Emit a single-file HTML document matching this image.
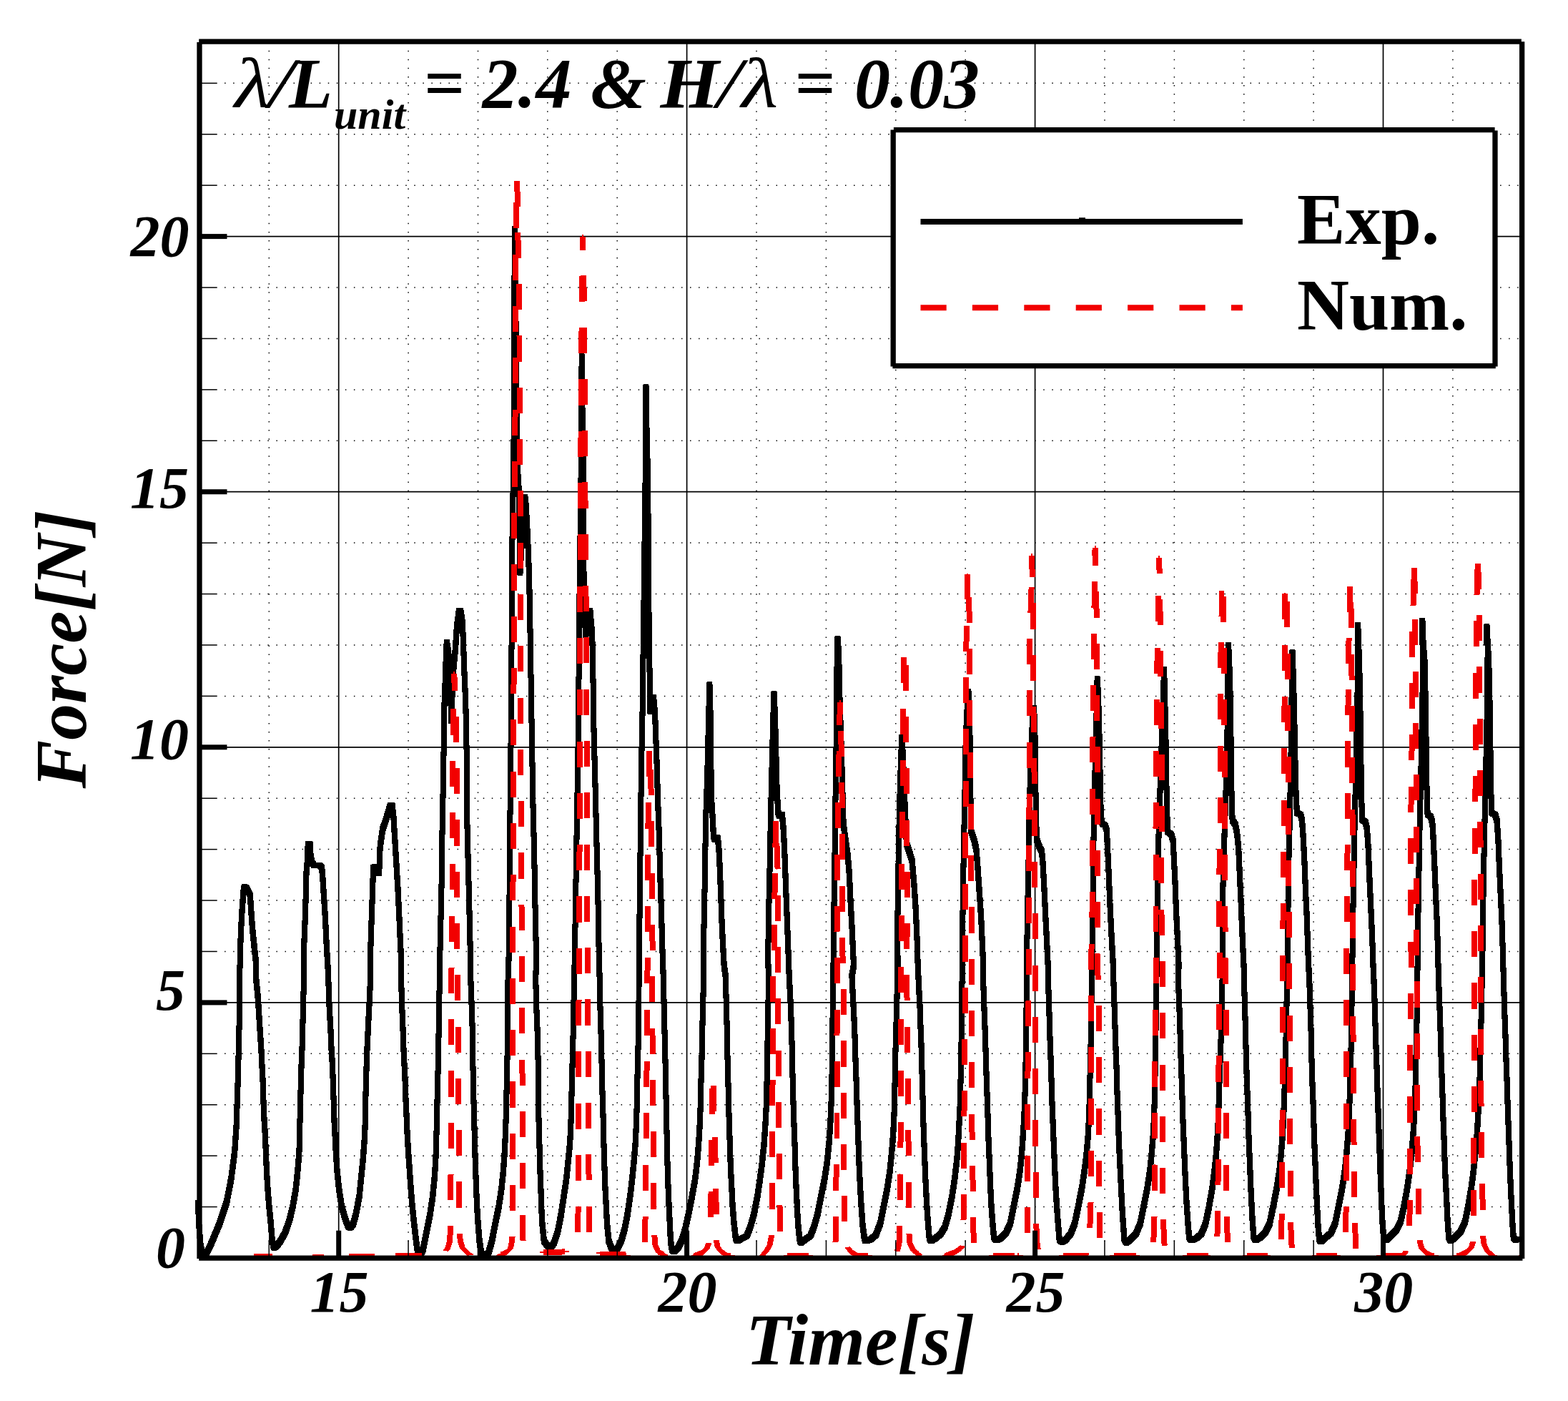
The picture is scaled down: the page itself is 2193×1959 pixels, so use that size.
<!DOCTYPE html>
<html lang="en"><head><meta charset="utf-8"><title>Force vs Time</title>
<style>html,body{margin:0;padding:0;background:#fff}body{width:2193px;height:1959px;overflow:hidden}svg{display:block}text{font-family:"Liberation Serif","DejaVu Serif",serif;fill:#000}.bi{font-weight:bold;font-style:italic}.b{font-weight:bold}.i{font-style:italic}</style></head><body>
<svg width="2193" height="1959" viewBox="0 0 2193 1959">
<rect x="0" y="0" width="2193" height="1959" fill="#fff"/>
<g id="grid"><line x1="376.3" y1="1735.7" x2="376.3" y2="58.2" stroke="#000" stroke-width="1.5" stroke-dasharray="1.5 10.554"/><line x1="473.7" y1="58.2" x2="473.7" y2="1759.1" stroke="#000" stroke-width="1.7"/><line x1="571.1" y1="1735.7" x2="571.1" y2="58.2" stroke="#000" stroke-width="1.5" stroke-dasharray="1.5 10.554"/><line x1="668.5" y1="1735.7" x2="668.5" y2="58.2" stroke="#000" stroke-width="1.5" stroke-dasharray="1.5 10.554"/><line x1="765.8" y1="1735.7" x2="765.8" y2="58.2" stroke="#000" stroke-width="1.5" stroke-dasharray="1.5 10.554"/><line x1="863.2" y1="1735.7" x2="863.2" y2="58.2" stroke="#000" stroke-width="1.5" stroke-dasharray="1.5 10.554"/><line x1="960.6" y1="58.2" x2="960.6" y2="1759.1" stroke="#000" stroke-width="1.7"/><line x1="1058.0" y1="1735.7" x2="1058.0" y2="58.2" stroke="#000" stroke-width="1.5" stroke-dasharray="1.5 10.554"/><line x1="1155.4" y1="1735.7" x2="1155.4" y2="58.2" stroke="#000" stroke-width="1.5" stroke-dasharray="1.5 10.554"/><line x1="1252.8" y1="1735.7" x2="1252.8" y2="58.2" stroke="#000" stroke-width="1.5" stroke-dasharray="1.5 10.554"/><line x1="1350.2" y1="1735.7" x2="1350.2" y2="58.2" stroke="#000" stroke-width="1.5" stroke-dasharray="1.5 10.554"/><line x1="1447.6" y1="58.2" x2="1447.6" y2="1759.1" stroke="#000" stroke-width="1.7"/><line x1="1545.0" y1="1735.7" x2="1545.0" y2="58.2" stroke="#000" stroke-width="1.5" stroke-dasharray="1.5 10.554"/><line x1="1642.4" y1="1735.7" x2="1642.4" y2="58.2" stroke="#000" stroke-width="1.5" stroke-dasharray="1.5 10.554"/><line x1="1739.8" y1="1735.7" x2="1739.8" y2="58.2" stroke="#000" stroke-width="1.5" stroke-dasharray="1.5 10.554"/><line x1="1837.1" y1="1735.7" x2="1837.1" y2="58.2" stroke="#000" stroke-width="1.5" stroke-dasharray="1.5 10.554"/><line x1="1934.5" y1="58.2" x2="1934.5" y2="1759.1" stroke="#000" stroke-width="1.7"/><line x1="2031.9" y1="1735.7" x2="2031.9" y2="58.2" stroke="#000" stroke-width="1.5" stroke-dasharray="1.5 10.554"/><line x1="314.1" y1="1687.6" x2="2128.7" y2="1687.6" stroke="#000" stroke-width="1.5" stroke-dasharray="1.5 10.554"/><line x1="314.1" y1="1616.2" x2="2128.7" y2="1616.2" stroke="#000" stroke-width="1.5" stroke-dasharray="1.5 10.554"/><line x1="314.1" y1="1544.7" x2="2128.7" y2="1544.7" stroke="#000" stroke-width="1.5" stroke-dasharray="1.5 10.554"/><line x1="314.1" y1="1473.3" x2="2128.7" y2="1473.3" stroke="#000" stroke-width="1.5" stroke-dasharray="1.5 10.554"/><line x1="279.0" y1="1401.9" x2="2128.7" y2="1401.9" stroke="#000" stroke-width="1.7"/><line x1="314.1" y1="1330.5" x2="2128.7" y2="1330.5" stroke="#000" stroke-width="1.5" stroke-dasharray="1.5 10.554"/><line x1="314.1" y1="1259.1" x2="2128.7" y2="1259.1" stroke="#000" stroke-width="1.5" stroke-dasharray="1.5 10.554"/><line x1="314.1" y1="1187.6" x2="2128.7" y2="1187.6" stroke="#000" stroke-width="1.5" stroke-dasharray="1.5 10.554"/><line x1="314.1" y1="1116.2" x2="2128.7" y2="1116.2" stroke="#000" stroke-width="1.5" stroke-dasharray="1.5 10.554"/><line x1="279.0" y1="1044.8" x2="2128.7" y2="1044.8" stroke="#000" stroke-width="1.7"/><line x1="314.1" y1="973.4" x2="2128.7" y2="973.4" stroke="#000" stroke-width="1.5" stroke-dasharray="1.5 10.554"/><line x1="314.1" y1="902.0" x2="2128.7" y2="902.0" stroke="#000" stroke-width="1.5" stroke-dasharray="1.5 10.554"/><line x1="314.1" y1="830.5" x2="2128.7" y2="830.5" stroke="#000" stroke-width="1.5" stroke-dasharray="1.5 10.554"/><line x1="314.1" y1="759.1" x2="2128.7" y2="759.1" stroke="#000" stroke-width="1.5" stroke-dasharray="1.5 10.554"/><line x1="279.0" y1="687.7" x2="2128.7" y2="687.7" stroke="#000" stroke-width="1.7"/><line x1="314.1" y1="616.3" x2="2128.7" y2="616.3" stroke="#000" stroke-width="1.5" stroke-dasharray="1.5 10.554"/><line x1="314.1" y1="544.9" x2="2128.7" y2="544.9" stroke="#000" stroke-width="1.5" stroke-dasharray="1.5 10.554"/><line x1="314.1" y1="473.4" x2="2128.7" y2="473.4" stroke="#000" stroke-width="1.5" stroke-dasharray="1.5 10.554"/><line x1="314.1" y1="402.0" x2="2128.7" y2="402.0" stroke="#000" stroke-width="1.5" stroke-dasharray="1.5 10.554"/><line x1="279.0" y1="330.6" x2="2128.7" y2="330.6" stroke="#000" stroke-width="1.7"/><line x1="314.1" y1="259.2" x2="2128.7" y2="259.2" stroke="#000" stroke-width="1.5" stroke-dasharray="1.5 10.554"/><line x1="314.1" y1="187.8" x2="2128.7" y2="187.8" stroke="#000" stroke-width="1.5" stroke-dasharray="1.5 10.554"/><line x1="314.1" y1="116.3" x2="2128.7" y2="116.3" stroke="#000" stroke-width="1.5" stroke-dasharray="1.5 10.554"/></g>
<defs><filter id="sq" filterUnits="userSpaceOnUse" x="0" y="0" width="2193" height="1959" color-interpolation-filters="sRGB"><feMorphology operator="dilate" radius="3"/></filter><filter id="sqh" filterUnits="userSpaceOnUse" x="0" y="0" width="2193" height="1959" color-interpolation-filters="sRGB"><feMorphology operator="dilate" radius="3 0"/></filter><filter id="sqv" filterUnits="userSpaceOnUse" x="0" y="0" width="2193" height="1959" color-interpolation-filters="sRGB"><feMorphology operator="dilate" radius="0 3"/></filter></defs>
<g id="curves" fill="none" stroke-linejoin="round" shape-rendering="crispEdges">
<g filter="url(#sq)" stroke="#000" stroke-width="2">
<polyline points="276.9,1681.2 278.2,1710.9 280.4,1740.6 283.6,1755.4 288.5,1753.0 294.7,1740.6 307.1,1710.9 317.0,1681.2 323.2,1649.1 328.1,1612.0 330.6,1574.9 331.8,1537.8 333.1,1500.7 333.8,1463.6 334.8,1426.5 335.0,1389.5 335.5,1352.4 336.3,1320.4 337.3,1295.6 338.7,1270.9 340.0,1253.6 340.7,1244.2 341.7,1240.3 344.2,1240.8 346.2,1245.0 349.9,1251.6 351.1,1270.9 352.8,1295.6 355.3,1320.4 358.5,1350.0 357.8,1364.7 360.3,1389.5 362.0,1414.2 363.5,1438.9 365.2,1463.6 366.4,1488.4 367.7,1513.1 368.4,1537.8 369.4,1562.6 370.9,1587.3 371.9,1612.0 372.9,1636.7 374.4,1661.5 376.3,1686.2 378.8,1710.9 380.8,1735.2 383.0,1745.0"/>
<polyline points="383.0,1745.0 386.7,1742.6 391.7,1736.1 398.6,1724.0 404.8,1706.5 409.7,1686.2 413.9,1661.5 416.4,1636.7 418.4,1612.0 419.1,1587.3 419.6,1562.6 420.3,1537.8 420.8,1513.1 421.6,1488.4 422.6,1463.6 423.3,1438.9 423.8,1414.2 424.5,1389.5 425.0,1364.7 424.5,1350.0 425.3,1320.4 426.3,1295.6 427.3,1270.9 427.8,1246.2 428.5,1221.5 429.5,1209.1 430.2,1196.7 430.7,1180.4 433.7,1180.4 434.4,1195.5 436.2,1206.1 439.4,1210.3 446.8,1209.6 449.8,1212.8 451.0,1221.5 452.5,1246.2 454.2,1270.9 455.5,1295.6 456.7,1320.4 458.4,1350.0 459.2,1364.7 459.9,1389.5 460.9,1414.2 462.4,1438.9 463.4,1463.6 464.9,1488.4 465.8,1513.1 466.6,1537.8 467.3,1562.6 468.6,1587.3 469.8,1612.0 471.5,1636.7 474.0,1661.5 477.7,1686.2 482.7,1704.0 487.1,1715.4 490.1,1717.1"/>
<polyline points="490.1,1717.1 493.8,1711.9 497.5,1699.1 502.4,1673.8 504.9,1649.1 507.4,1624.4 509.4,1599.6 510.6,1574.9 511.1,1550.2 511.6,1525.5 512.3,1500.7 513.6,1463.6 514.8,1438.9 516.0,1414.2 517.3,1389.5 518.0,1364.7 518.0,1350.0 518.5,1320.4 519.3,1295.6 520.2,1270.9 521.0,1246.2 521.7,1226.4 522.2,1212.6 525.7,1212.1 527.2,1221.0 529.9,1221.0 530.9,1206.6 531.6,1184.4 535.1,1159.6 539.5,1147.3 543.2,1134.9 546.0,1125.5 548.4,1125.5 550.4,1142.3 551.9,1167.1 553.4,1191.8 554.9,1216.5 556.4,1241.2 557.6,1266.0 558.8,1290.7 559.8,1315.4 560.8,1335.2 561.3,1350.0 560.6,1364.7 561.8,1389.5 562.5,1414.2 563.5,1438.9 564.3,1463.6 565.5,1488.4 566.7,1513.1 567.5,1537.8 568.7,1562.6 569.7,1587.3 571.2,1612.0 572.9,1636.7 574.6,1661.5 576.6,1686.2 579.1,1710.9 582.1,1735.6 584.5,1753.0 587.8,1755.4"/>
<polyline points="587.8,1755.4 591.5,1748.0 596.4,1723.3 601.4,1698.6 605.1,1673.8 607.5,1649.1 609.3,1624.4 610.0,1599.6 610.8,1574.9 611.2,1550.2 612.0,1525.5 612.5,1500.7 613.2,1463.6 613.7,1438.9 614.2,1414.2 614.5,1389.5 614.7,1364.7 615.0,1350.0 616.2,1295.6 617.4,1246.2 618.2,1196.7 618.7,1147.3 619.9,1097.8 620.6,1048.4 620.5,1009.5 621.9,976.1 623.4,931.6 624.1,909.3 624.8,897.8 626.8,909.3 629.0,931.6 630.3,976.1 631.2,1008.4 632.3,976.1 634.6,931.6 636.8,909.3 639.0,876.0 641.9,854.1 644.1,854.1 646.4,867.1 647.5,887.1 648.4,909.3 649.0,931.6 650.1,953.9 651.3,987.2 652.4,1025.1 652.8,1097.8 653.3,1147.3 654.5,1196.7 655.8,1246.2 657.0,1295.6 658.2,1350.0 658.2,1364.7 659.0,1389.5 660.0,1414.2 660.7,1438.9 661.2,1463.6 661.4,1488.4 661.9,1513.1 662.4,1537.8 663.2,1562.6 663.7,1587.3 664.4,1612.0 665.2,1636.7 666.1,1661.5 667.1,1686.2 668.6,1710.9 670.6,1735.6 673.1,1751.7 676.8,1755.4"/>
<polyline points="676.8,1755.4 683.0,1753.0 687.9,1735.6 692.8,1710.9 697.8,1686.2 701.5,1661.5 704.0,1636.7 705.7,1612.0 706.9,1587.3 707.7,1562.6 708.2,1537.8 708.9,1513.1 709.4,1488.4 709.7,1463.6 710.2,1438.9 710.2,1414.2 710.2,1389.5 710.7,1364.7 711.4,1350.0 712.1,1295.6 712.6,1246.2 713.1,1196.7 713.4,1147.3 713.9,1097.8 714.4,1048.4 714.9,1023.6 714.7,1025.1 715.4,931.6 715.8,842.6 716.5,753.5 717.6,686.8 718.5,620.0 718.3,650.0 719.3,497.0 719.5,400.0 719.6,320.0 721.0,400.0 723.5,650.0 725.8,686.8 726.9,753.5 727.4,800.7 731.4,731.3 732.9,695.2 734.3,695.2 735.8,709.0 738.1,753.5 739.8,798.1 740.9,842.6 741.6,887.1 742.3,931.6 743.0,976.1 743.8,1025.1 744.3,1048.4 744.8,1097.8 746.0,1147.3 747.3,1196.7 748.0,1246.2 749.2,1295.6 750.2,1350.0 749.2,1364.7 749.7,1389.5 750.5,1414.2 751.5,1438.9 752.2,1463.6 752.7,1488.4 752.9,1513.1 753.2,1537.8 753.4,1562.6 754.2,1587.3 754.7,1612.0 755.4,1636.7 756.4,1661.5 757.1,1686.2 758.4,1710.9 760.9,1735.6 765.0,1741.0 768.9,1744.5"/>
<polyline points="768.9,1744.5 772.0,1742.0 774.8,1738.1 779.8,1723.3 784.7,1698.6 788.4,1673.8 792.1,1649.1 794.6,1624.4 797.1,1599.6 798.3,1574.9 799.1,1550.2 799.6,1525.5 800.3,1500.7 800.8,1476.0 801.5,1451.3 802.0,1426.5 802.5,1401.8 803.0,1377.1 803.5,1352.4 803.8,1350.0 804.5,1295.6 805.3,1246.2 806.0,1196.7 807.0,1147.3 807.7,1097.8 808.5,1048.4 809.0,998.9 809.5,949.5 810.0,900.0 810.4,842.6 811.5,753.5 812.6,664.5 813.2,580.0 813.6,498.0 814.6,580.0 816.0,664.5 816.4,753.5 816.6,842.6 819.3,888.0 822.0,870.0 825.3,854.0 828.2,887.0 829.3,931.6 830.0,998.9 831.2,1048.4 832.5,1097.8 833.7,1147.3 834.9,1196.7 836.2,1246.2 837.2,1295.6 837.9,1350.0 838.6,1364.7 839.1,1389.5 839.6,1414.2 840.4,1438.9 841.1,1463.6 841.6,1488.4 842.1,1513.1 842.8,1537.8 843.6,1562.6 844.1,1587.3 844.8,1612.0 845.6,1636.7 846.5,1661.5 847.8,1686.2 849.0,1710.9 851.5,1735.6 855.2,1745.5 858.9,1748.0"/>
<polyline points="858.9,1748.0 863.9,1745.5 868.8,1735.6 873.7,1718.3 877.5,1698.6 881.2,1673.8 884.1,1649.1 886.6,1624.4 888.6,1599.6 889.8,1574.9 890.6,1550.2 891.1,1525.5 891.6,1500.7 892.3,1476.0 892.8,1451.3 893.0,1426.5 893.5,1401.8 893.5,1377.1 893.5,1352.4 893.5,1350.0 894.3,1295.6 895.0,1246.2 895.5,1196.7 896.0,1147.3 896.7,1097.8 897.5,1048.4 898.5,998.9 899.2,949.5 899.7,900.0 900.5,842.6 901.6,753.5 902.7,664.5 903.2,600.0 903.5,541.0 904.5,600.0 906.0,664.5 906.8,753.5 907.2,842.6 908.3,900.0 908.6,954.0 909.4,995.0 913.9,975.0 916.1,998.4 917.0,1023.6 918.8,1073.1 920.2,1122.6 922.0,1172.0 923.2,1221.5 924.9,1270.9 926.2,1320.4 927.2,1350.0 927.7,1364.7 928.2,1389.5 928.9,1414.2 929.4,1438.9 930.1,1463.6 930.6,1488.4 931.1,1513.1 931.6,1537.8 932.1,1562.6 932.6,1587.3 933.1,1612.0 933.8,1636.7 934.6,1661.5 935.6,1686.2 936.8,1710.9 938.0,1735.6 940.0,1748.0 943.0,1750.5"/>
<polyline points="943.0,1750.5 947.9,1745.5 952.9,1735.6 957.8,1720.8 962.8,1698.6 967.7,1673.8 972.2,1649.1 975.1,1624.4 977.1,1599.6 978.6,1574.9 979.6,1550.2 980.1,1525.5 980.8,1500.7 981.6,1476.0 982.1,1451.3 982.6,1426.5 983.3,1401.8 983.8,1377.1 984.0,1352.4 983.8,1350.0 984.5,1295.6 985.5,1246.2 986.3,1196.7 987.0,1147.3 988.0,1122.6 989.5,1073.1 990.7,1023.6 991.9,974.2 992.4,957.4 993.2,974.2 993.9,1023.6 994.4,1073.1 995.4,1122.6 996.9,1147.3 997.9,1168.3 999.4,1174.0 1003.6,1171.0 1005.3,1184.4 1006.5,1209.1 1008.0,1246.2 1009.8,1295.6 1011.7,1332.7 1012.7,1350.0 1014.7,1364.7 1015.4,1389.5 1016.2,1414.2 1016.7,1438.9 1017.2,1463.6 1017.7,1488.4 1018.4,1513.1 1019.1,1537.8 1019.6,1562.6 1020.4,1587.3 1021.1,1612.0 1022.1,1636.7 1023.4,1661.5 1024.6,1686.2 1026.6,1710.9 1029.0,1731.9 1030.8,1735.6"/>
<polyline points="1030.8,1735.6 1037.0,1731.9 1044.4,1728.2 1049.3,1715.9 1054.3,1698.6 1059.2,1673.8 1062.9,1649.1 1066.1,1624.4 1068.6,1599.6 1070.3,1574.9 1071.6,1550.2 1072.3,1525.5 1072.8,1500.7 1073.3,1476.0 1073.6,1451.3 1074.0,1426.5 1074.5,1401.8 1074.8,1377.1 1075.3,1352.4 1074.0,1350.0 1074.8,1295.6 1075.8,1246.2 1077.0,1196.7 1077.8,1147.3 1079.0,1097.8 1080.2,1048.4 1081.5,998.9 1082.5,969.7 1083.9,998.9 1085.2,1048.4 1086.4,1097.8 1087.6,1122.6 1088.4,1136.2 1090.1,1141.1 1093.8,1138.6 1095.8,1159.6 1097.5,1196.7 1099.3,1246.2 1101.2,1295.6 1103.2,1350.0 1103.7,1364.7 1105.0,1389.5 1106.2,1414.2 1106.9,1438.9 1107.7,1463.6 1108.2,1488.4 1108.7,1513.1 1109.4,1537.8 1110.1,1562.6 1111.1,1587.3 1111.9,1612.0 1112.6,1636.7 1113.6,1661.5 1114.8,1686.2 1116.1,1710.9 1118.1,1730.7 1119.8,1738.1"/>
<polyline points="1119.8,1738.1 1126.0,1733.2 1133.4,1728.2 1138.3,1715.9 1143.3,1698.6 1148.2,1673.8 1153.2,1649.1 1156.9,1624.4 1159.4,1599.6 1161.1,1574.9 1162.3,1550.2 1163.1,1525.5 1163.6,1500.7 1163.8,1476.0 1164.3,1451.3 1164.5,1426.5 1164.8,1401.8 1165.0,1377.1 1165.3,1352.4 1165.5,1350.0 1166.0,1295.6 1166.8,1246.2 1167.5,1196.7 1168.0,1147.3 1168.8,1097.8 1169.5,1048.4 1170.5,998.9 1169.9,964.8 1170.6,931.4 1171.2,909.2 1171.5,892.9 1172.8,909.2 1173.5,931.4 1174.1,964.8 1175.5,1009.3 1177.0,1053.9 1178.1,1098.4 1178.9,1122.6 1179.4,1147.3 1181.1,1164.6 1183.3,1179.4 1185.8,1196.7 1187.8,1221.5 1189.5,1258.6 1191.5,1295.6 1193.2,1332.7 1194.0,1350.0 1191.5,1364.7 1192.7,1389.5 1194.0,1414.2 1195.2,1438.9 1196.0,1463.6 1196.7,1488.4 1197.7,1513.1 1198.4,1537.8 1199.2,1562.6 1200.2,1587.3 1200.9,1612.0 1201.9,1636.7 1203.1,1661.5 1204.6,1686.2 1206.3,1710.9 1208.8,1730.7 1210.5,1735.6"/>
<polyline points="1210.5,1735.6 1217.5,1733.2 1224.9,1727.0 1231.1,1710.9 1236.0,1686.2 1241.0,1661.5 1244.7,1636.7 1247.1,1612.0 1249.1,1587.3 1250.4,1562.6 1251.1,1537.8 1251.6,1513.1 1252.1,1488.4 1252.6,1463.6 1253.3,1438.9 1254.1,1414.2 1254.6,1389.5 1255.3,1364.7 1255.8,1340.0 1254.7,1350.0 1255.2,1295.6 1256.0,1246.2 1256.7,1196.7 1257.7,1147.3 1258.9,1097.8 1260.2,1060.7 1261.2,1031.1 1262.4,1048.4 1263.4,1073.1 1264.6,1097.8 1265.9,1134.9 1267.1,1159.6 1267.8,1179.4 1272.0,1191.8 1275.7,1204.2 1278.2,1233.8 1280.7,1270.9 1282.4,1308.0 1283.7,1350.0 1284.4,1364.7 1285.6,1389.5 1286.9,1414.2 1287.6,1438.9 1288.6,1463.6 1289.3,1488.4 1289.8,1513.1 1290.6,1537.8 1291.3,1562.6 1291.8,1587.3 1293.1,1612.0 1293.8,1636.7 1295.0,1661.5 1296.3,1686.2 1298.0,1710.9 1299.7,1730.7 1301.7,1735.6"/>
<polyline points="1301.7,1735.6 1307.9,1731.9 1315.3,1725.8 1321.5,1715.9 1326.4,1698.6 1331.4,1673.8 1335.1,1649.1 1338.1,1624.4 1340.0,1599.6 1341.3,1574.9 1342.5,1550.2 1343.3,1525.5 1343.7,1500.7 1344.2,1476.0 1344.7,1451.3 1345.0,1426.5 1345.2,1401.8 1345.5,1377.1 1345.7,1352.4 1345.7,1350.0 1346.2,1295.6 1347.0,1246.2 1347.7,1196.7 1348.7,1147.3 1349.7,1097.8 1350.4,1048.4 1351.7,1011.3 1353.1,984.1 1354.4,967.3 1355.4,984.1 1356.1,1011.3 1356.9,1048.4 1357.3,1097.8 1357.8,1147.3 1358.3,1162.1 1362.3,1174.5 1365.3,1186.8 1367.2,1209.1 1369.7,1246.2 1372.2,1283.3 1373.9,1320.4 1375.2,1350.0 1374.7,1364.7 1375.9,1389.5 1376.6,1414.2 1377.6,1438.9 1378.4,1463.6 1379.1,1488.4 1379.9,1513.1 1380.8,1537.8 1381.6,1562.6 1382.3,1587.3 1383.3,1612.0 1384.3,1636.7 1385.3,1661.5 1386.5,1686.2 1388.3,1710.9 1390.2,1730.7 1393.2,1734.4"/>
<polyline points="1393.2,1734.4 1399.4,1731.9 1406.8,1724.5 1413.0,1710.9 1417.9,1686.2 1422.9,1661.5 1426.6,1636.7 1429.1,1612.0 1430.8,1587.3 1432.3,1562.6 1433.3,1537.8 1434.0,1513.1 1434.5,1488.4 1435.0,1463.6 1435.2,1438.9 1435.5,1414.2 1435.7,1389.5 1436.0,1364.7 1436.0,1350.0 1436.7,1295.6 1437.7,1246.2 1438.7,1196.7 1439.4,1147.3 1440.7,1097.8 1442.2,1048.4 1443.9,1011.3 1445.9,989.5 1447.1,1011.3 1447.9,1048.4 1448.3,1097.8 1449.1,1147.3 1450.1,1174.5 1453.8,1184.4 1457.0,1190.6 1458.7,1209.1 1460.0,1233.8 1461.2,1258.6 1462.4,1283.3 1463.7,1308.0 1464.9,1332.7 1465.7,1350.0 1465.7,1364.7 1466.6,1389.5 1467.4,1414.2 1468.1,1438.9 1468.9,1463.6 1469.9,1488.4 1470.6,1513.1 1471.3,1537.8 1472.3,1562.6 1473.3,1587.3 1474.3,1612.0 1475.3,1636.7 1476.5,1661.5 1478.0,1686.2 1479.8,1710.9 1481.7,1733.2 1484.7,1736.9"/>
<polyline points="1484.7,1736.9 1489.6,1734.4 1497.1,1725.8 1503.2,1710.9 1508.2,1686.2 1513.1,1661.5 1516.8,1636.7 1519.8,1612.0 1521.8,1587.3 1523.0,1562.6 1523.8,1537.8 1524.3,1513.1 1525.0,1488.4 1525.5,1463.6 1526.0,1438.9 1526.2,1414.2 1526.7,1389.5 1527.0,1364.7 1527.2,1350.0 1528.0,1295.6 1528.7,1246.2 1529.2,1196.7 1529.7,1159.6 1530.4,1122.6 1531.7,1073.1 1532.9,1023.6 1534.2,974.2 1534.6,949.0 1536.1,974.2 1537.4,1023.6 1538.4,1073.1 1539.3,1122.6 1540.3,1147.3 1542.1,1152.7 1545.3,1153.5 1547.8,1160.9 1549.0,1184.4 1550.7,1221.5 1552.2,1258.6 1553.9,1295.6 1555.9,1332.7 1556.9,1350.0 1557.2,1364.7 1557.9,1389.5 1558.9,1414.2 1559.6,1438.9 1560.4,1463.6 1561.4,1488.4 1562.1,1513.1 1562.8,1537.8 1563.8,1562.6 1564.6,1587.3 1565.6,1612.0 1566.8,1636.7 1568.0,1661.5 1569.3,1686.2 1570.8,1710.9 1572.5,1733.2 1575.0,1738.1"/>
<polyline points="1575.0,1738.1 1581.1,1733.2 1588.6,1725.8 1594.7,1710.9 1599.7,1686.2 1604.6,1661.5 1608.3,1636.7 1610.8,1612.0 1612.8,1587.3 1614.0,1562.6 1614.8,1537.8 1615.3,1513.1 1615.8,1488.4 1616.3,1463.6 1616.5,1438.9 1617.0,1414.2 1617.2,1389.5 1617.5,1364.7 1617.7,1350.0 1618.2,1295.6 1619.0,1246.2 1620.0,1196.7 1620.7,1159.6 1621.9,1122.6 1623.7,1073.1 1625.2,1023.6 1626.9,974.2 1628.1,935.9 1629.1,974.2 1630.3,1023.6 1631.1,1073.1 1631.8,1122.6 1632.6,1147.3 1633.3,1163.4 1638.0,1166.6 1640.5,1175.0 1641.7,1196.7 1643.5,1233.8 1644.9,1270.9 1646.7,1308.0 1647.9,1332.7 1648.6,1350.0 1647.9,1364.7 1648.6,1389.5 1649.6,1414.2 1650.4,1438.9 1651.1,1463.6 1651.9,1488.4 1652.8,1513.1 1653.6,1537.8 1654.3,1562.6 1655.3,1587.3 1656.3,1612.0 1657.3,1636.7 1658.5,1661.5 1659.8,1686.2 1661.5,1710.9 1663.2,1730.7 1666.4,1734.4"/>
<polyline points="1666.4,1734.4 1672.6,1731.9 1680.0,1725.8 1686.2,1710.9 1691.2,1686.2 1695.4,1661.5 1698.6,1636.7 1701.1,1612.0 1702.8,1587.3 1704.0,1562.6 1704.8,1537.8 1705.5,1513.1 1706.3,1488.4 1707.3,1463.6 1708.0,1438.9 1708.7,1414.2 1709.2,1389.5 1709.7,1364.7 1709.6,1350.0 1709.8,1295.6 1710.3,1246.2 1711.5,1196.7 1712.8,1159.6 1714.0,1122.6 1715.3,1085.5 1716.5,1023.6 1717.2,961.8 1717.7,914.8 1718.0,901.5 1719.2,924.7 1720.4,961.8 1721.4,1023.6 1722.2,1085.5 1722.7,1122.6 1723.7,1147.3 1727.6,1152.7 1730.1,1165.1 1732.1,1184.4 1733.8,1221.5 1735.5,1258.6 1737.0,1295.6 1738.7,1332.7 1739.5,1350.0 1739.5,1364.7 1740.5,1389.5 1741.2,1414.2 1742.0,1438.9 1742.5,1463.6 1743.2,1488.4 1743.9,1513.1 1744.9,1537.8 1745.7,1562.6 1746.4,1587.3 1747.4,1612.0 1748.4,1636.7 1749.4,1661.5 1750.6,1686.2 1751.9,1710.9 1753.6,1730.7 1756.1,1734.4"/>
<polyline points="1756.1,1734.4 1762.2,1730.7 1769.7,1723.3 1775.8,1710.9 1780.8,1686.2 1785.7,1661.5 1789.4,1636.7 1791.9,1612.0 1793.9,1587.3 1795.1,1562.6 1796.1,1537.8 1796.9,1513.1 1797.6,1488.4 1798.3,1463.6 1798.8,1438.9 1799.3,1414.2 1799.8,1389.5 1800.3,1364.7 1800.8,1350.0 1801.1,1295.6 1801.8,1246.2 1802.5,1196.7 1803.5,1159.6 1804.3,1122.6 1805.0,1085.5 1806.0,1023.6 1806.7,961.8 1807.5,911.9 1809.0,949.5 1810.7,1023.6 1811.9,1085.5 1812.9,1122.6 1814.2,1136.9 1819.1,1139.1 1821.1,1147.8 1822.8,1172.0 1824.6,1209.1 1826.0,1246.2 1827.8,1283.3 1829.0,1320.4 1830.2,1350.0 1831.0,1364.7 1832.0,1389.5 1832.7,1414.2 1833.5,1438.9 1833.9,1463.6 1834.7,1488.4 1835.4,1513.1 1836.4,1537.8 1837.2,1562.6 1837.9,1587.3 1838.9,1612.0 1839.9,1636.7 1840.9,1661.5 1842.1,1686.2 1843.3,1710.9 1845.1,1733.2 1847.5,1736.9"/>
<polyline points="1847.5,1736.9 1853.7,1730.7 1861.2,1724.5 1867.3,1710.9 1872.3,1686.2 1877.2,1661.5 1880.9,1636.7 1883.4,1612.0 1885.4,1587.3 1886.6,1562.6 1887.6,1537.8 1888.4,1513.1 1889.1,1488.4 1889.6,1463.6 1890.1,1438.9 1890.3,1414.2 1890.8,1389.5 1891.1,1364.7 1891.3,1350.0 1892.1,1295.6 1892.8,1246.2 1893.8,1196.7 1894.5,1159.6 1895.3,1122.6 1896.3,1085.5 1897.5,1023.6 1898.7,961.8 1899.5,900.0 1898.8,898.1 1899.2,873.6 1900.1,898.1 1901.0,924.7 1902.0,961.8 1902.9,1023.6 1903.7,1085.5 1904.4,1122.6 1905.2,1146.8 1909.4,1149.0 1911.8,1157.7 1913.6,1184.4 1915.1,1221.5 1916.8,1258.6 1918.5,1295.6 1920.0,1332.7 1920.5,1350.0 1921.2,1364.7 1922.2,1389.5 1923.0,1414.2 1923.7,1438.9 1924.5,1463.6 1925.4,1488.4 1926.2,1513.1 1926.9,1537.8 1927.9,1562.6 1928.7,1587.3 1929.6,1612.0 1930.4,1636.7 1931.4,1661.5 1932.4,1686.2 1933.6,1710.9 1935.3,1730.7 1939.0,1734.4"/>
<polyline points="1939.0,1734.4 1945.2,1728.2 1952.6,1720.8 1958.8,1708.4 1963.8,1686.2 1968.2,1661.5 1971.7,1636.7 1974.4,1612.0 1976.4,1587.3 1977.9,1562.6 1978.9,1537.8 1979.8,1513.1 1980.3,1488.4 1980.8,1463.6 1981.3,1438.9 1981.8,1414.2 1982.1,1389.5 1982.3,1364.7 1982.6,1350.0 1983.1,1295.6 1984.0,1246.2 1984.8,1196.7 1985.5,1159.6 1986.3,1122.6 1987.3,1085.5 1988.5,1023.6 1989.7,961.8 1990.5,900.0 1988.9,898.1 1989.4,867.6 1990.5,898.1 1992.5,924.7 1993.4,961.8 1994.4,1023.6 1995.2,1085.5 1995.9,1122.6 1996.7,1139.4 2000.9,1141.6 2003.3,1150.2 2004.6,1172.0 2006.3,1209.1 2007.8,1246.2 2009.5,1283.3 2010.8,1320.4 2011.5,1350.0 2012.0,1364.7 2012.7,1389.5 2013.7,1414.2 2014.5,1438.9 2015.2,1463.6 2015.9,1488.4 2016.9,1513.1 2017.7,1537.8 2018.4,1562.6 2019.4,1587.3 2020.2,1612.0 2021.1,1636.7 2022.4,1661.5 2023.6,1686.2 2024.8,1710.9 2026.3,1730.7 2028.8,1735.6"/>
<polyline points="2028.8,1735.6 2035.5,1729.5 2042.9,1722.0 2049.1,1708.4 2053.5,1686.2 2057.7,1661.5 2061.0,1636.7 2063.4,1612.0 2065.7,1587.3 2067.1,1562.6 2068.4,1537.8 2069.4,1513.1 2070.1,1488.4 2070.6,1463.6 2071.3,1438.9 2071.8,1414.2 2072.3,1389.5 2072.8,1364.7 2073.3,1350.0 2073.8,1295.6 2074.6,1246.2 2075.5,1196.7 2076.3,1159.6 2077.0,1122.6 2078.0,1085.5 2079.3,1023.6 2080.2,961.8 2080.7,900.0 2079.1,898.1 2079.5,876.5 2080.6,898.1 2082.2,924.7 2083.2,961.8 2084.2,1023.6 2084.9,1085.5 2085.7,1122.6 2086.4,1136.9 2091.1,1139.1 2093.6,1147.8 2095.3,1172.0 2096.8,1209.1 2098.5,1246.2 2100.3,1283.3 2101.5,1320.4 2102.2,1350.0 2103.0,1364.7 2103.5,1389.5 2104.2,1414.2 2105.2,1438.9 2106.0,1463.6 2106.7,1488.4 2107.7,1513.1 2108.4,1537.8 2109.2,1562.6 2110.2,1587.3 2110.9,1612.0 2111.9,1636.7 2112.9,1661.5 2114.1,1686.2 2115.4,1710.9 2116.8,1730.7 2119.6,1733.7 2128.7,1732.4"/>
</g>
<g filter="url(#sqh)" stroke="#f20000" stroke-width="2" stroke-dasharray="36.10 36.20">
<polyline points="621.1,1751.0 626.1,1745.5 629.1,1735.6 630.0,1715.9 630.5,1642.9 631.0,1498.3 631.5,1353.6 632.3,1316.7 633.0,1136.2 634.0,991.5 635.2,942.5" stroke-dashoffset="-2.9"/>
<polyline points="635.2,942.5 636.2,955.6 637.7,1001.9 638.9,1110.2 638.9,1327.3 640.2,1364.0 640.9,1471.1 642.2,1688.7 642.9,1725.8 643.9,1735.6 647.1,1745.5 654.5,1752.5 663.2,1756.3" stroke-dashoffset="-59.4"/>
<polyline points="697.0,1756.3 709.0,1750.5 714.0,1745.5 716.0,1735.6 716.8,1726.0 717.1,1693.0 717.1,1350.0 718.6,935.0 718.6,865.0 719.1,720.0 720.3,647.0 720.8,500.0 721.5,356.0 722.3,284.0 723.3,252.0" stroke-dashoffset="-0.7"/>
<polyline points="723.3,252.0 724.3,325.0 725.7,397.0 726.5,470.0 726.5,541.0 726.7,613.0 728.0,700.0 728.0,1010.0 730.0,1350.0 731.2,1700.0 731.4,1733.0 732.5,1741.0 737.5,1747.0 749.7,1751.0 758.0,1751.5" stroke-dashoffset="-0.6"/>
<polyline points="758.0,1751.5 800.0,1750.0 806.0,1745.0 808.0,1725.0 808.5,1700.0 809.0,1600.0 809.5,1400.0 810.5,1200.0 811.0,900.0 812.0,700.0 813.0,530.0 814.0,400.0 815.0,331.0" stroke-dashoffset="-71.6"/>
<polyline points="815.0,331.0 816.5,400.0 817.5,530.0 818.5,700.0 820.0,900.0 820.5,1000.0 821.3,1150.0 821.5,1290.0 822.0,1400.0 823.0,1500.0 823.8,1724.0 824.8,1742.0 828.0,1749.0 840.0,1752.5" stroke-dashoffset="-54.3"/>
<polyline points="873.7,1756.3 893.5,1756.3 898.0,1745.5 900.9,1738.6 902.2,1736.9 902.9,1664.4 903.9,1592.2 904.2,1520.0 905.2,1447.6 905.4,1375.1 905.9,1303.1 905.9,1230.9 906.4,1158.4 907.6,1086.0 908.4,1050.3 908.9,1045.2" stroke-dashoffset="-41.1"/>
<polyline points="908.9,1045.2 909.6,1076.1 910.8,1111.9 911.3,1183.9 912.1,1256.6 912.6,1329.0 911.6,1364.7 912.8,1473.5 913.3,1545.7 914.1,1618.2 914.5,1690.6 915.3,1727.0 916.3,1740.6 920.7,1750.5 933.1,1756.3" stroke-dashoffset="-30.9"/>
<polyline points="970.2,1756.3 982.6,1751.5 988.7,1745.5 992.4,1735.6 993.9,1702.3 994.4,1686.2 994.9,1612.0 996.2,1537.8 996.9,1503.2" stroke-dashoffset="-65.8"/>
<polyline points="996.9,1503.2 997.9,1517.5 998.6,1562.6 1000.4,1612.0 1001.6,1686.2 1002.1,1735.6 1003.6,1743.1 1007.3,1748.5 1017.2,1756.3 1029.5,1756.3" stroke-dashoffset="-14.4"/>
<polyline points="1065.4,1756.3 1071.6,1749.7 1076.5,1741.1 1079.0,1728.2 1079.7,1690.6 1079.7,1618.2 1080.2,1545.7 1081.0,1473.5 1081.5,1364.7 1083.2,1329.0 1083.4,1256.1 1084.4,1184.4 1085.2,1148.5 1085.4,1145.5" stroke-dashoffset="-69.7"/>
<polyline points="1085.4,1145.5 1086.4,1179.4 1087.6,1215.3 1088.1,1287.7 1088.4,1345.1 1088.4,1432.7 1088.9,1505.2 1089.4,1577.4 1090.1,1649.6 1090.9,1722.0 1091.8,1745.5 1098.8,1756.3 1106.2,1756.3 1142.0,1756.3" stroke-dashoffset="-33.9"/>
<polyline points="1145.8,1756.3 1160.6,1756.3 1165.5,1749.2 1167.5,1743.1 1168.5,1736.9 1169.2,1664.4 1170.5,1592.2 1170.5,1520.0 1170.5,1447.6 1171.0,1340.0 1170.5,1303.1 1171.2,1230.1 1171.7,1158.4 1173.0,1086.0 1174.2,1013.7 1174.9,981.6" stroke-dashoffset="-36.2"/>
<polyline points="1174.9,981.6 1176.2,1021.7 1177.4,1094.1 1177.9,1166.6 1177.9,1238.8 1177.9,1311.0 1179.6,1383.3 1179.9,1491.3 1179.9,1563.8 1180.4,1636.0 1181.1,1708.4 1182.4,1733.2 1185.3,1743.6 1190.3,1750.5 1200.2,1756.3 1217.5,1756.3" stroke-dashoffset="-40.1"/>
<polyline points="1244.8,1756.3 1252.3,1756.3 1256.0,1745.5 1257.9,1735.6 1258.4,1715.9 1259.2,1642.9 1259.7,1570.5 1259.7,1498.3 1259.7,1425.8 1259.7,1353.6 1260.9,1316.7 1260.9,1244.2 1262.1,1172.0 1262.6,1099.6 1262.9,1027.3 1264.1,954.9 1264.1,919.0" stroke-dashoffset="-14.7"/>
<polyline points="1264.6,919.0 1267.1,929.7 1267.1,1001.9 1267.6,1074.3 1268.3,1146.5 1268.6,1219.0 1268.6,1291.2 1268.3,1364.0 1268.8,1436.4 1270.1,1508.6 1270.3,1581.1 1271.3,1653.6 1271.5,1725.8 1272.5,1738.1 1277.0,1748.0 1288.1,1756.3 1304.2,1756.3" stroke-dashoffset="-10.9"/>
<polyline points="1321.5,1756.3 1336.3,1750.5 1345.0,1744.3 1347.0,1735.6 1347.5,1706.0 1348.2,1671.4 1348.2,1599.1 1348.7,1526.7 1349.2,1454.2 1349.9,1382.0 1349.9,1345.1 1349.9,1272.7 1349.9,1200.4 1350.7,1128.0 1351.2,1055.8 1351.2,983.3 1351.2,911.1 1352.0,875.4 1353.5,803.5" stroke-dashoffset="-65.1"/>
<polyline points="1354.0,803.5 1354.6,834.6 1356.2,870.7 1356.2,943.0 1356.4,1015.3 1357.3,1087.7 1357.8,1124.3 1357.8,1196.7 1358.6,1268.9 1359.1,1341.4 1358.6,1413.7 1359.1,1485.9 1359.1,1558.3 1360.3,1630.6 1361.1,1703.0 1361.8,1738.1 1363.5,1748.0 1370.9,1756.3 1388.3,1756.3 1422.9,1756.3" stroke-dashoffset="-31.2"/>
<polyline points="1422.9,1756.3 1431.5,1756.3 1435.7,1746.8 1437.0,1735.6 1437.2,1724.5 1437.2,1689.2 1437.2,1617.0 1437.2,1544.7 1437.7,1472.3 1438.5,1400.1 1438.5,1340.0 1438.5,1327.8 1439.0,1255.3 1439.0,1183.1 1439.7,1110.7 1440.2,1038.5 1440.2,966.0 1440.2,900.0 1441.4,857.3 1442.6,821.3 1443.2,777.4" stroke-dashoffset="-41.4"/>
<polyline points="1443.2,777.4 1443.7,807.2 1444.8,843.5 1444.8,915.9 1445.4,988.2 1446.3,1060.5 1447.0,1125.1 1446.9,1133.2 1446.9,1205.4 1447.6,1277.8 1447.6,1350.4 1447.6,1422.8 1447.6,1495.0 1448.1,1567.5 1448.8,1639.7 1449.3,1712.2 1450.1,1735.6 1451.8,1746.8 1460.0,1756.3 1483.5,1756.3 1516.8,1756.3" stroke-dashoffset="-66.1"/>
<polyline points="1516.8,1756.3 1520.6,1751.7 1523.3,1740.6 1524.3,1717.1 1525.5,1681.7 1526.0,1609.5 1526.0,1537.1 1526.0,1464.9 1526.2,1392.4 1526.2,1340.0 1526.7,1320.4 1528.0,1247.9 1528.0,1175.7 1528.0,1103.3 1528.5,1031.1 1529.2,958.6 1530.4,900.0 1530.5,849.1 1531.1,786.8 1531.6,765.6" stroke-dashoffset="-40.9"/>
<polyline points="1531.6,765.6 1532.0,790.8 1533.8,862.9 1533.8,935.4 1534.5,1007.6 1534.9,1080.6 1535.4,1125.1 1535.4,1188.8 1535.4,1261.0 1535.4,1333.5 1534.9,1340.0 1536.6,1406.3 1536.6,1478.5 1536.6,1550.7 1536.6,1623.1 1537.9,1695.6 1538.4,1730.7 1539.6,1745.5 1546.5,1756.3 1555.2,1756.3 1591.0,1756.3" stroke-dashoffset="-61.9"/>
<polyline points="1591.0,1756.3 1605.9,1756.3 1611.3,1748.0 1613.3,1736.9 1614.5,1701.5 1615.0,1629.3 1615.0,1556.9 1615.3,1484.7 1616.5,1412.2 1617.0,1340.0 1616.5,1303.1 1616.5,1230.6 1616.5,1158.4 1617.0,1086.0 1617.7,1013.7 1618.2,941.3 1619.5,869.6 1620.6,797.2 1621.1,780.5" stroke-dashoffset="-36.1"/>
<polyline points="1621.1,780.5 1621.7,801.2 1622.8,873.6 1623.5,945.9 1623.9,1018.2 1625.1,1090.6 1624.4,1199.2 1624.4,1271.4 1625.6,1344.5 1625.6,1416.7 1625.6,1489.1 1625.6,1561.3 1625.6,1633.8 1626.9,1706.0 1628.6,1741.1 1631.8,1750.5 1640.5,1756.3 1655.3,1756.3 1689.9,1756.3" stroke-dashoffset="-57.4"/>
<polyline points="1690.5,1756.3 1696.7,1751.7 1700.4,1744.3 1702.4,1729.5 1703.4,1694.1 1703.6,1621.9 1704.1,1549.4 1704.6,1477.2 1705.4,1404.8 1705.9,1340.0 1704.9,1295.6 1705.4,1221.5 1706.6,1150.2 1706.6,1078.0 1706.6,1005.6 1707.1,933.4 1708.5,861.3 1708.5,825.7" stroke-dashoffset="-31.0"/>
<polyline points="1708.9,825.7 1711.4,833.5 1711.6,905.8 1711.8,978.2 1712.7,1050.5 1712.8,1194.3 1712.8,1266.5 1714.5,1338.9 1714.0,1340.0 1714.5,1412.5 1714.5,1484.7 1714.5,1556.9 1714.8,1629.3 1715.7,1701.5 1717.0,1736.9 1719.0,1748.0 1727.6,1756.3 1740.0,1756.3 1773.4,1756.3" stroke-dashoffset="-8.2"/>
<polyline points="1773.4,1756.3 1785.7,1756.3 1790.2,1746.8 1791.9,1733.2 1792.7,1698.1 1793.1,1626.1 1793.6,1553.9 1794.4,1481.4 1794.4,1409.2 1794.4,1340.0 1794.4,1299.9 1795.1,1227.6 1795.6,1155.2 1795.6,1083.0 1796.1,1010.5 1797.4,938.3 1797.3,866.5 1797.3,830.2" stroke-dashoffset="-36.6"/>
<polyline points="1797.7,830.2 1800.4,841.3 1800.6,913.6 1800.9,986.0 1801.7,1057.9 1801.8,1201.7 1803.0,1275.1 1803.0,1346.3 1803.0,1347.4 1803.5,1419.9 1803.5,1492.1 1803.5,1564.5 1804.8,1636.7 1805.0,1709.2 1806.7,1744.3 1809.2,1751.0 1819.1,1756.3 1836.4,1756.3 1869.8,1756.3" stroke-dashoffset="-11.4"/>
<polyline points="1869.8,1756.3 1877.2,1752.5 1880.4,1745.5 1881.7,1723.3 1882.7,1688.2 1882.9,1615.7 1883.4,1543.3 1883.4,1471.1 1883.4,1398.6 1883.4,1340.0 1883.4,1326.1 1884.1,1253.6 1884.6,1181.2 1884.6,1109.0 1884.6,1036.5 1885.9,964.3 1886.4,900.0 1887.7,855.8 1887.7,819.7" stroke-dashoffset="-38.3"/>
<polyline points="1888.1,819.7 1889.4,842.4 1890.3,914.7 1890.8,987.1 1890.8,1059.4 1892.1,1204.2 1892.1,1276.4 1892.1,1349.1 1892.1,1421.6 1893.3,1493.8 1893.3,1566.3 1893.8,1638.5 1895.0,1710.9 1896.3,1745.5 1898.7,1751.7 1908.1,1756.3 1930.4,1756.3 1961.3,1756.3" stroke-dashoffset="-22.7"/>
<polyline points="1961.3,1756.3 1965.0,1751.7 1968.7,1745.5 1970.7,1735.6 1971.2,1714.1 1971.9,1678.8 1971.9,1606.3 1971.9,1534.1 1972.4,1461.7 1973.2,1389.5 1973.7,1340.0 1973.2,1316.7 1973.2,1244.2 1973.2,1172.0 1973.7,1099.6 1974.9,1027.3 1974.9,954.9 1974.9,900.0 1976.5,846.9 1977.1,811.3 1977.8,794.1" stroke-dashoffset="-44.7"/>
<polyline points="1978.2,794.1 1979.4,866.5 1979.6,938.8 1980.0,1011.1 1980.9,1083.5 1981.1,1155.9 1981.1,1228.1 1981.1,1300.6 1981.6,1373.4 1982.3,1445.6 1982.3,1518.0 1982.3,1590.2 1983.6,1662.7 1984.3,1697.8 1984.8,1725.8 1985.8,1736.9 1988.5,1745.5 1994.7,1751.7 2003.3,1756.3 2019.4,1756.3" stroke-dashoffset="-0.0"/>
<polyline points="2021.9,1756.3 2039.2,1756.3 2051.6,1750.5 2057.7,1744.3 2060.0,1736.9 2060.7,1699.8 2061.0,1664.4 2061.4,1592.2 2062.2,1519.8 2062.2,1447.6 2062.2,1375.1 2062.2,1337.7 2062.2,1265.2 2062.7,1193.0 2063.4,1120.6 2063.9,1048.4 2063.9,975.9 2065.0,903.6 2065.5,831.3 2066.2,795.7 2066.8,788.3" stroke-dashoffset="-12.3"/>
<polyline points="2067.3,788.3 2068.6,860.2 2068.6,932.6 2069.9,1004.9 2069.9,1077.2 2070.1,1149.8 2071.3,1222.0 2071.3,1294.4 2071.3,1367.2 2071.3,1439.7 2071.3,1511.9 2071.8,1584.3 2073.1,1656.5 2073.8,1691.9 2074.1,1729.5 2075.8,1740.6 2080.0,1749.2 2088.6,1756.3 2128.2,1756.3" stroke-dashoffset="-71.9"/>
</g>
<g filter="url(#sqv)" stroke="#f20000" stroke-width="2" stroke-dasharray="30.10 42.20">
<polyline points="621.1,1751.0 626.1,1745.5 629.1,1735.6 630.0,1715.9 630.5,1642.9 631.0,1498.3 631.5,1353.6 632.3,1316.7 633.0,1136.2 634.0,991.5 635.2,942.5" stroke-dashoffset="-5.9"/>
<polyline points="635.2,942.5 636.2,955.6 637.7,1001.9 638.9,1110.2 638.9,1327.3 640.2,1364.0 640.9,1471.1 642.2,1688.7 642.9,1725.8 643.9,1735.6 647.1,1745.5 654.5,1752.5 663.2,1756.3" stroke-dashoffset="-62.4"/>
<polyline points="697.0,1756.3 709.0,1750.5 714.0,1745.5 716.0,1735.6 716.8,1726.0 717.1,1693.0 717.1,1350.0 718.6,935.0 718.6,865.0 719.1,720.0 720.3,647.0 720.8,500.0 721.5,356.0 722.3,284.0 723.3,252.0" stroke-dashoffset="-3.7"/>
<polyline points="723.3,252.0 724.3,325.0 725.7,397.0 726.5,470.0 726.5,541.0 726.7,613.0 728.0,700.0 728.0,1010.0 730.0,1350.0 731.2,1700.0 731.4,1733.0 732.5,1741.0 737.5,1747.0 749.7,1751.0 758.0,1751.5" stroke-dashoffset="-3.6"/>
<polyline points="758.0,1751.5 800.0,1750.0 806.0,1745.0 808.0,1725.0 808.5,1700.0 809.0,1600.0 809.5,1400.0 810.5,1200.0 811.0,900.0 812.0,700.0 813.0,530.0 814.0,400.0 815.0,331.0" stroke-dashoffset="-74.6"/>
<polyline points="815.0,331.0 816.5,400.0 817.5,530.0 818.5,700.0 820.0,900.0 820.5,1000.0 821.3,1150.0 821.5,1290.0 822.0,1400.0 823.0,1500.0 823.8,1724.0 824.8,1742.0 828.0,1749.0 840.0,1752.5" stroke-dashoffset="-57.3"/>
<polyline points="873.7,1756.3 893.5,1756.3 898.0,1745.5 900.9,1738.6 902.2,1736.9 902.9,1664.4 903.9,1592.2 904.2,1520.0 905.2,1447.6 905.4,1375.1 905.9,1303.1 905.9,1230.9 906.4,1158.4 907.6,1086.0 908.4,1050.3 908.9,1045.2" stroke-dashoffset="-44.1"/>
<polyline points="908.9,1045.2 909.6,1076.1 910.8,1111.9 911.3,1183.9 912.1,1256.6 912.6,1329.0 911.6,1364.7 912.8,1473.5 913.3,1545.7 914.1,1618.2 914.5,1690.6 915.3,1727.0 916.3,1740.6 920.7,1750.5 933.1,1756.3" stroke-dashoffset="-33.9"/>
<polyline points="970.2,1756.3 982.6,1751.5 988.7,1745.5 992.4,1735.6 993.9,1702.3 994.4,1686.2 994.9,1612.0 996.2,1537.8 996.9,1503.2" stroke-dashoffset="-68.8"/>
<polyline points="996.9,1503.2 997.9,1517.5 998.6,1562.6 1000.4,1612.0 1001.6,1686.2 1002.1,1735.6 1003.6,1743.1 1007.3,1748.5 1017.2,1756.3 1029.5,1756.3" stroke-dashoffset="-17.4"/>
<polyline points="1065.4,1756.3 1071.6,1749.7 1076.5,1741.1 1079.0,1728.2 1079.7,1690.6 1079.7,1618.2 1080.2,1545.7 1081.0,1473.5 1081.5,1364.7 1083.2,1329.0 1083.4,1256.1 1084.4,1184.4 1085.2,1148.5 1085.4,1145.5" stroke-dashoffset="-72.7"/>
<polyline points="1085.4,1145.5 1086.4,1179.4 1087.6,1215.3 1088.1,1287.7 1088.4,1345.1 1088.4,1432.7 1088.9,1505.2 1089.4,1577.4 1090.1,1649.6 1090.9,1722.0 1091.8,1745.5 1098.8,1756.3 1106.2,1756.3 1142.0,1756.3" stroke-dashoffset="-36.9"/>
<polyline points="1145.8,1756.3 1160.6,1756.3 1165.5,1749.2 1167.5,1743.1 1168.5,1736.9 1169.2,1664.4 1170.5,1592.2 1170.5,1520.0 1170.5,1447.6 1171.0,1340.0 1170.5,1303.1 1171.2,1230.1 1171.7,1158.4 1173.0,1086.0 1174.2,1013.7 1174.9,981.6" stroke-dashoffset="-39.2"/>
<polyline points="1174.9,981.6 1176.2,1021.7 1177.4,1094.1 1177.9,1166.6 1177.9,1238.8 1177.9,1311.0 1179.6,1383.3 1179.9,1491.3 1179.9,1563.8 1180.4,1636.0 1181.1,1708.4 1182.4,1733.2 1185.3,1743.6 1190.3,1750.5 1200.2,1756.3 1217.5,1756.3" stroke-dashoffset="-43.1"/>
<polyline points="1244.8,1756.3 1252.3,1756.3 1256.0,1745.5 1257.9,1735.6 1258.4,1715.9 1259.2,1642.9 1259.7,1570.5 1259.7,1498.3 1259.7,1425.8 1259.7,1353.6 1260.9,1316.7 1260.9,1244.2 1262.1,1172.0 1262.6,1099.6 1262.9,1027.3 1264.1,954.9 1264.1,919.0" stroke-dashoffset="-17.7"/>
<polyline points="1264.6,919.0 1267.1,929.7 1267.1,1001.9 1267.6,1074.3 1268.3,1146.5 1268.6,1219.0 1268.6,1291.2 1268.3,1364.0 1268.8,1436.4 1270.1,1508.6 1270.3,1581.1 1271.3,1653.6 1271.5,1725.8 1272.5,1738.1 1277.0,1748.0 1288.1,1756.3 1304.2,1756.3" stroke-dashoffset="-13.9"/>
<polyline points="1321.5,1756.3 1336.3,1750.5 1345.0,1744.3 1347.0,1735.6 1347.5,1706.0 1348.2,1671.4 1348.2,1599.1 1348.7,1526.7 1349.2,1454.2 1349.9,1382.0 1349.9,1345.1 1349.9,1272.7 1349.9,1200.4 1350.7,1128.0 1351.2,1055.8 1351.2,983.3 1351.2,911.1 1352.0,875.4 1353.5,803.5" stroke-dashoffset="-68.1"/>
<polyline points="1354.0,803.5 1354.6,834.6 1356.2,870.7 1356.2,943.0 1356.4,1015.3 1357.3,1087.7 1357.8,1124.3 1357.8,1196.7 1358.6,1268.9 1359.1,1341.4 1358.6,1413.7 1359.1,1485.9 1359.1,1558.3 1360.3,1630.6 1361.1,1703.0 1361.8,1738.1 1363.5,1748.0 1370.9,1756.3 1388.3,1756.3 1422.9,1756.3" stroke-dashoffset="-34.2"/>
<polyline points="1422.9,1756.3 1431.5,1756.3 1435.7,1746.8 1437.0,1735.6 1437.2,1724.5 1437.2,1689.2 1437.2,1617.0 1437.2,1544.7 1437.7,1472.3 1438.5,1400.1 1438.5,1340.0 1438.5,1327.8 1439.0,1255.3 1439.0,1183.1 1439.7,1110.7 1440.2,1038.5 1440.2,966.0 1440.2,900.0 1441.4,857.3 1442.6,821.3 1443.2,777.4" stroke-dashoffset="-44.4"/>
<polyline points="1443.2,777.4 1443.7,807.2 1444.8,843.5 1444.8,915.9 1445.4,988.2 1446.3,1060.5 1447.0,1125.1 1446.9,1133.2 1446.9,1205.4 1447.6,1277.8 1447.6,1350.4 1447.6,1422.8 1447.6,1495.0 1448.1,1567.5 1448.8,1639.7 1449.3,1712.2 1450.1,1735.6 1451.8,1746.8 1460.0,1756.3 1483.5,1756.3 1516.8,1756.3" stroke-dashoffset="-69.1"/>
<polyline points="1516.8,1756.3 1520.6,1751.7 1523.3,1740.6 1524.3,1717.1 1525.5,1681.7 1526.0,1609.5 1526.0,1537.1 1526.0,1464.9 1526.2,1392.4 1526.2,1340.0 1526.7,1320.4 1528.0,1247.9 1528.0,1175.7 1528.0,1103.3 1528.5,1031.1 1529.2,958.6 1530.4,900.0 1530.5,849.1 1531.1,786.8 1531.6,765.6" stroke-dashoffset="-43.9"/>
<polyline points="1531.6,765.6 1532.0,790.8 1533.8,862.9 1533.8,935.4 1534.5,1007.6 1534.9,1080.6 1535.4,1125.1 1535.4,1188.8 1535.4,1261.0 1535.4,1333.5 1534.9,1340.0 1536.6,1406.3 1536.6,1478.5 1536.6,1550.7 1536.6,1623.1 1537.9,1695.6 1538.4,1730.7 1539.6,1745.5 1546.5,1756.3 1555.2,1756.3 1591.0,1756.3" stroke-dashoffset="-64.9"/>
<polyline points="1591.0,1756.3 1605.9,1756.3 1611.3,1748.0 1613.3,1736.9 1614.5,1701.5 1615.0,1629.3 1615.0,1556.9 1615.3,1484.7 1616.5,1412.2 1617.0,1340.0 1616.5,1303.1 1616.5,1230.6 1616.5,1158.4 1617.0,1086.0 1617.7,1013.7 1618.2,941.3 1619.5,869.6 1620.6,797.2 1621.1,780.5" stroke-dashoffset="-39.1"/>
<polyline points="1621.1,780.5 1621.7,801.2 1622.8,873.6 1623.5,945.9 1623.9,1018.2 1625.1,1090.6 1624.4,1199.2 1624.4,1271.4 1625.6,1344.5 1625.6,1416.7 1625.6,1489.1 1625.6,1561.3 1625.6,1633.8 1626.9,1706.0 1628.6,1741.1 1631.8,1750.5 1640.5,1756.3 1655.3,1756.3 1689.9,1756.3" stroke-dashoffset="-60.4"/>
<polyline points="1690.5,1756.3 1696.7,1751.7 1700.4,1744.3 1702.4,1729.5 1703.4,1694.1 1703.6,1621.9 1704.1,1549.4 1704.6,1477.2 1705.4,1404.8 1705.9,1340.0 1704.9,1295.6 1705.4,1221.5 1706.6,1150.2 1706.6,1078.0 1706.6,1005.6 1707.1,933.4 1708.5,861.3 1708.5,825.7" stroke-dashoffset="-34.0"/>
<polyline points="1708.9,825.7 1711.4,833.5 1711.6,905.8 1711.8,978.2 1712.7,1050.5 1712.8,1194.3 1712.8,1266.5 1714.5,1338.9 1714.0,1340.0 1714.5,1412.5 1714.5,1484.7 1714.5,1556.9 1714.8,1629.3 1715.7,1701.5 1717.0,1736.9 1719.0,1748.0 1727.6,1756.3 1740.0,1756.3 1773.4,1756.3" stroke-dashoffset="-11.2"/>
<polyline points="1773.4,1756.3 1785.7,1756.3 1790.2,1746.8 1791.9,1733.2 1792.7,1698.1 1793.1,1626.1 1793.6,1553.9 1794.4,1481.4 1794.4,1409.2 1794.4,1340.0 1794.4,1299.9 1795.1,1227.6 1795.6,1155.2 1795.6,1083.0 1796.1,1010.5 1797.4,938.3 1797.3,866.5 1797.3,830.2" stroke-dashoffset="-39.6"/>
<polyline points="1797.7,830.2 1800.4,841.3 1800.6,913.6 1800.9,986.0 1801.7,1057.9 1801.8,1201.7 1803.0,1275.1 1803.0,1346.3 1803.0,1347.4 1803.5,1419.9 1803.5,1492.1 1803.5,1564.5 1804.8,1636.7 1805.0,1709.2 1806.7,1744.3 1809.2,1751.0 1819.1,1756.3 1836.4,1756.3 1869.8,1756.3" stroke-dashoffset="-14.4"/>
<polyline points="1869.8,1756.3 1877.2,1752.5 1880.4,1745.5 1881.7,1723.3 1882.7,1688.2 1882.9,1615.7 1883.4,1543.3 1883.4,1471.1 1883.4,1398.6 1883.4,1340.0 1883.4,1326.1 1884.1,1253.6 1884.6,1181.2 1884.6,1109.0 1884.6,1036.5 1885.9,964.3 1886.4,900.0 1887.7,855.8 1887.7,819.7" stroke-dashoffset="-41.3"/>
<polyline points="1888.1,819.7 1889.4,842.4 1890.3,914.7 1890.8,987.1 1890.8,1059.4 1892.1,1204.2 1892.1,1276.4 1892.1,1349.1 1892.1,1421.6 1893.3,1493.8 1893.3,1566.3 1893.8,1638.5 1895.0,1710.9 1896.3,1745.5 1898.7,1751.7 1908.1,1756.3 1930.4,1756.3 1961.3,1756.3" stroke-dashoffset="-25.7"/>
<polyline points="1961.3,1756.3 1965.0,1751.7 1968.7,1745.5 1970.7,1735.6 1971.2,1714.1 1971.9,1678.8 1971.9,1606.3 1971.9,1534.1 1972.4,1461.7 1973.2,1389.5 1973.7,1340.0 1973.2,1316.7 1973.2,1244.2 1973.2,1172.0 1973.7,1099.6 1974.9,1027.3 1974.9,954.9 1974.9,900.0 1976.5,846.9 1977.1,811.3 1977.8,794.1" stroke-dashoffset="-47.7"/>
<polyline points="1978.2,794.1 1979.4,866.5 1979.6,938.8 1980.0,1011.1 1980.9,1083.5 1981.1,1155.9 1981.1,1228.1 1981.1,1300.6 1981.6,1373.4 1982.3,1445.6 1982.3,1518.0 1982.3,1590.2 1983.6,1662.7 1984.3,1697.8 1984.8,1725.8 1985.8,1736.9 1988.5,1745.5 1994.7,1751.7 2003.3,1756.3 2019.4,1756.3" stroke-dashoffset="-3.0"/>
<polyline points="2021.9,1756.3 2039.2,1756.3 2051.6,1750.5 2057.7,1744.3 2060.0,1736.9 2060.7,1699.8 2061.0,1664.4 2061.4,1592.2 2062.2,1519.8 2062.2,1447.6 2062.2,1375.1 2062.2,1337.7 2062.2,1265.2 2062.7,1193.0 2063.4,1120.6 2063.9,1048.4 2063.9,975.9 2065.0,903.6 2065.5,831.3 2066.2,795.7 2066.8,788.3" stroke-dashoffset="-15.3"/>
<polyline points="2067.3,788.3 2068.6,860.2 2068.6,932.6 2069.9,1004.9 2069.9,1077.2 2070.1,1149.8 2071.3,1222.0 2071.3,1294.4 2071.3,1367.2 2071.3,1439.7 2071.3,1511.9 2071.8,1584.3 2073.1,1656.5 2073.8,1691.9 2074.1,1729.5 2075.8,1740.6 2080.0,1749.2 2088.6,1756.3 2128.2,1756.3" stroke-dashoffset="-74.9"/>
</g>
<rect x="839.0" y="1750.3" width="36.0" height="6.0" fill="#f20000" stroke="none"/>
<rect x="355.0" y="1753.4" width="25.5" height="4.0" fill="#f20000" stroke="none"/>
<rect x="437.0" y="1754.0" width="16.0" height="4.0" fill="#f20000" stroke="none"/>
<rect x="487.6" y="1753.4" width="36.4" height="4.0" fill="#f20000" stroke="none"/>
<rect x="552.7" y="1751.5" width="37.6" height="6.0" fill="#f20000" stroke="none"/>
</g>
<g id="ticks" fill="#000"><rect x="375.5" y="1734.5" width="1.5" height="24.6"/><rect x="470.2" y="1720.7" width="7" height="38.4"/><rect x="570.3" y="1734.5" width="1.5" height="24.6"/><rect x="667.7" y="1734.5" width="1.5" height="24.6"/><rect x="765.1" y="1734.5" width="1.5" height="24.6"/><rect x="862.5" y="1734.5" width="1.5" height="24.6"/><rect x="957.1" y="1720.7" width="7" height="38.4"/><rect x="1057.3" y="1734.5" width="1.5" height="24.6"/><rect x="1154.7" y="1734.5" width="1.5" height="24.6"/><rect x="1252.0" y="1734.5" width="1.5" height="24.6"/><rect x="1349.4" y="1734.5" width="1.5" height="24.6"/><rect x="1444.1" y="1720.7" width="7" height="38.4"/><rect x="1544.2" y="1734.5" width="1.5" height="24.6"/><rect x="1641.6" y="1734.5" width="1.5" height="24.6"/><rect x="1739.0" y="1734.5" width="1.5" height="24.6"/><rect x="1836.4" y="1734.5" width="1.5" height="24.6"/><rect x="1931.0" y="1720.7" width="7" height="38.4"/><rect x="2031.2" y="1734.5" width="1.5" height="24.6"/><rect x="279.0" y="1686.8" width="24.7" height="1.5"/><rect x="279.0" y="1615.4" width="24.7" height="1.5"/><rect x="279.0" y="1544.0" width="24.7" height="1.5"/><rect x="279.0" y="1472.6" width="24.7" height="1.5"/><rect x="279.0" y="1398.4" width="38.5" height="7"/><rect x="279.0" y="1329.7" width="24.7" height="1.5"/><rect x="279.0" y="1258.3" width="24.7" height="1.5"/><rect x="279.0" y="1186.9" width="24.7" height="1.5"/><rect x="279.0" y="1115.5" width="24.7" height="1.5"/><rect x="279.0" y="1041.3" width="38.5" height="7"/><rect x="279.0" y="972.6" width="24.7" height="1.5"/><rect x="279.0" y="901.2" width="24.7" height="1.5"/><rect x="279.0" y="829.8" width="24.7" height="1.5"/><rect x="279.0" y="758.4" width="24.7" height="1.5"/><rect x="279.0" y="684.2" width="38.5" height="7"/><rect x="279.0" y="615.5" width="24.7" height="1.5"/><rect x="279.0" y="544.1" width="24.7" height="1.5"/><rect x="279.0" y="472.7" width="24.7" height="1.5"/><rect x="279.0" y="401.3" width="24.7" height="1.5"/><rect x="279.0" y="327.1" width="38.5" height="7"/><rect x="279.0" y="258.4" width="24.7" height="1.5"/><rect x="279.0" y="187.0" width="24.7" height="1.5"/><rect x="279.0" y="115.6" width="24.7" height="1.5"/></g>
<g stroke="#000" stroke-width="7.3" stroke-linecap="butt"><line x1="278.20" y1="58.20" x2="2127.85" y2="58.20"/><line x1="2128.65" y1="58.20" x2="2128.65" y2="1759.90"/><line x1="278.20" y1="1759.10" x2="2129.45" y2="1759.10"/><line x1="279.00" y1="59.00" x2="279.00" y2="1759.90"/></g>
<g class="bi" font-size="82" text-anchor="end">
<text x="264.5" y="358.4">20</text>
<text x="264.0" y="710.0">15</text>
<text x="264.0" y="1061.0">10</text>
<text x="259.0" y="1412.0">5</text>
<text x="259.0" y="1772.2">0</text>
</g>
<g class="bi" font-size="82" text-anchor="middle">
<text x="474.5" y="1834">15</text>
<text x="961.4" y="1834">20</text>
<text x="1448.4" y="1834">25</text>
<text x="1935.3" y="1834">30</text>
</g>
<text class="bi" font-size="102.5" x="1042.9" y="1907.5">Time[s]</text>
<text class="bi" font-size="101.5" transform="translate(120 908) rotate(-90)" text-anchor="middle">Force[N]</text>
<g id="title" font-size="100"><text class="i" transform="translate(328 149.5) scale(1.14 0.96)" font-size="104">λ</text><text class="bi" transform="translate(376.4 149.5) skewX(-7)">/</text><text class="bi" x="404" y="149.5">L</text><text class="bi" x="467" y="180" font-size="60">unit</text><text class="bi" x="592.5" y="149.5">=</text><text class="bi" x="674.5" y="149.5">2.4</text><text class="bi" x="826" y="149.5">&amp;</text><text class="bi" transform="translate(923.5 149.5) scale(1.06 1)">H</text><text class="bi" transform="translate(1003 149.5) skewX(-7)">/</text><text class="i" transform="translate(1037 149.5) scale(1.14 0.96)" font-size="104">λ</text><text class="bi" x="1111" y="149.5">=</text><text class="bi" x="1195" y="149.5">0.03</text></g>
<g id="legend"><rect x="1249.2" y="181.6" width="841.8" height="330" fill="#fff" stroke="none"/><g stroke="#000" stroke-width="7.3" stroke-linecap="butt"><line x1="1249.9" y1="181.6" x2="2090.6" y2="181.6"/><line x1="2091" y1="182.6" x2="2091" y2="512.4"/><line x1="1248.4" y1="511.6" x2="2091.8" y2="511.6"/><line x1="1249.2" y1="181.6" x2="1249.2" y2="512.4"/></g><rect x="1287.5" y="306" width="450.4" height="8" fill="#000"/><rect x="1509" y="304.3" width="9" height="2" fill="#000"/><line x1="1287.5" y1="430.2" x2="1737.9" y2="430.2" stroke="#f20000" stroke-width="8" stroke-dasharray="36.2 36.2"/><text class="b" font-size="101" x="1814" y="341">Exp.</text><text class="b" font-size="101" x="1814" y="461">Num.</text></g>
</svg></body></html>
